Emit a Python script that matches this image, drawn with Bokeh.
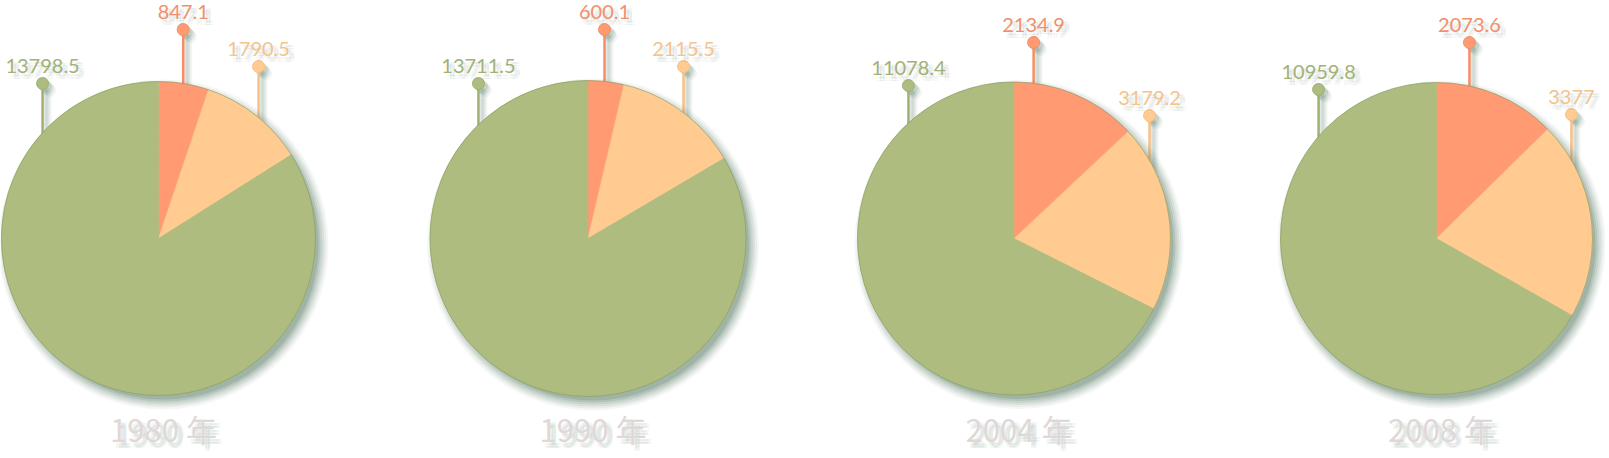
import math
from bokeh.plotting import figure
from bokeh.models import Range1d, ColumnDataSource
from bokeh.core.properties import value
from bokeh.embed import file_html
from bokeh.resources import INLINE

# ---------------- data ----------------
years = ["1980 年", "1990 年", "2004 年", "2008 年"]
series_names = ["red", "orange", "green"]
red_vals = [847.1, 600.1, 2134.9, 2073.6]
orange_vals = [1790.5, 2115.5, 3179.2, 3377]
green_vals = [13798.5, 13711.5, 11078.4, 10959.8]

# ---------------- layout / style ----------------
W, H = 1605, 458
centers_x = [158, 587.5, 1013.5, 1436]
center_y = 238            # page pixel
radii = [157, 158, 156.5, 156]
# label pin angle (degrees clockwise from 12 o'clock) per pie, per slice
pin_angles = [[9.05, 39.6, -47.6], [6.0, 37.2, -43.9], [7.2, 60.0, -42.4], [12.2, 59.9, -49.1]]
# dot height (page pixel) per pie, per slice
dot_y = [[29, 66, 83], [29, 66, 83], [42, 115, 85], [42, 114, 89]]
slice_colors = ["#FF9A73", "#FFCB91", "#AEBD7F"]
pin_colors = ["#F58D68", "#F7C086", "#9FB072"]
text_colors = ["#F2906D", "#F4C48D", "#A1B277"]
shadow_color = "#557A62"
title_color = "#E0D8D8"

blur_offsets = [(dx, dy) for dx in (3, 6) for dy in (-3, -6)] + [(4.5, -4.5)]


def Y(py):
    return H - py


def fmt(v):
    s = f"{v:.1f}"
    return s[:-2] if s.endswith(".0") else s


p = figure(width=W, height=H, x_range=Range1d(0, W), y_range=Range1d(0, H),
           output_backend="svg", toolbar_location=None, min_border=0)
p.axis.visible = False
p.grid.visible = False
p.outline_line_color = None
p.background_fill_color = "white"
p.border_fill_color = "white"

series = [red_vals, orange_vals, green_vals]

for i, yr in enumerate(years):
    cx, cy, r = centers_x[i], Y(center_y), radii[i]
    vals = [s[i] for s in series]
    total = sum(vals)

    # ---- pins (drawn under the pie) ----
    for k in range(3):
        a = math.radians(pin_angles[i][k])
        px = cx + r * math.sin(a)
        edge = cy + r * math.cos(a) - 6
        dy = Y(dot_y[i][k])
        # shadow of pin
        for off, al in [(3, 0.18), (5, 0.13), (7, 0.08)]:
            p.segment(x0=[px + off], y0=[dy - off], x1=[px + off], y1=[edge - off],
                      line_color=shadow_color, line_alpha=al, line_width=4)
            p.scatter(x=[px + off], y=[dy - off], size=13, marker="circle",
                      fill_color=shadow_color, fill_alpha=al, line_color=None)
        p.segment(x0=[px], y0=[dy], x1=[px], y1=[edge], line_color=pin_colors[k], line_width=2.5)
        p.scatter(x=[px], y=[dy], size=12, marker="circle", fill_color=slice_colors[k],
                  line_color=pin_colors[k], line_width=1)
        # label with soft shadow
        ty = Y(dot_y[i][k] - 18)
        for ox, oy in blur_offsets:
            p.text(x=[px + ox], y=[ty + oy], text=[fmt(vals[k])], text_align="center",
                   text_baseline="middle", text_font=value("Lato"), text_font_size="20px",
                   text_color=shadow_color, text_alpha=0.07)
        p.text(x=[px], y=[ty], text=[fmt(vals[k])], text_align="center", text_baseline="middle",
               text_font=value("Lato"), text_font_size="20px", text_color=text_colors[k])

    # ---- pie shadow ----
    for dr, al in [(11, 0.06), (9, 0.08), (7, 0.1), (5, 0.13), (3, 0.17), (1, 0.22)]:
        p.circle(x=[cx + 5], y=[cy - 6], radius=r + dr - 3, fill_color=shadow_color,
                 fill_alpha=al, line_color=None)

    # ---- pie slices ----
    cum = 0.0
    starts, ends = [], []
    for v in vals:
        starts.append(math.pi / 2 - 2 * math.pi * cum / total)
        cum += v
        ends.append(math.pi / 2 - 2 * math.pi * cum / total)
    src = ColumnDataSource(dict(x=[cx] * 3, y=[cy] * 3, start=starts, end=ends,
                                color=slice_colors, name=series_names))
    p.wedge(x="x", y="y", radius=r, start_angle="start", end_angle="end", direction="clock",
            fill_color="color", line_color="color", line_width=0.5, source=src)
    p.circle(x=[cx], y=[cy], radius=r, fill_color=None, line_color="#859A60",
             line_alpha=0.6, line_width=1)

    # ---- year title ----
    tx, ty = cx + 5, Y(428)
    for ox, oy in blur_offsets:
        p.text(x=[tx + ox], y=[ty + oy], text=[yr], text_align="center", text_baseline="middle",
               text_font=value("Noto Sans CJK SC"), text_font_size="31px",
               text_color=shadow_color, text_alpha=0.08)
    p.text(x=[tx], y=[ty], text=[yr], text_align="center", text_baseline="middle",
           text_font=value("Noto Sans CJK SC"), text_font_size="31px", text_color=title_color)

open("out.html", "w").write(file_html(p, INLINE))
